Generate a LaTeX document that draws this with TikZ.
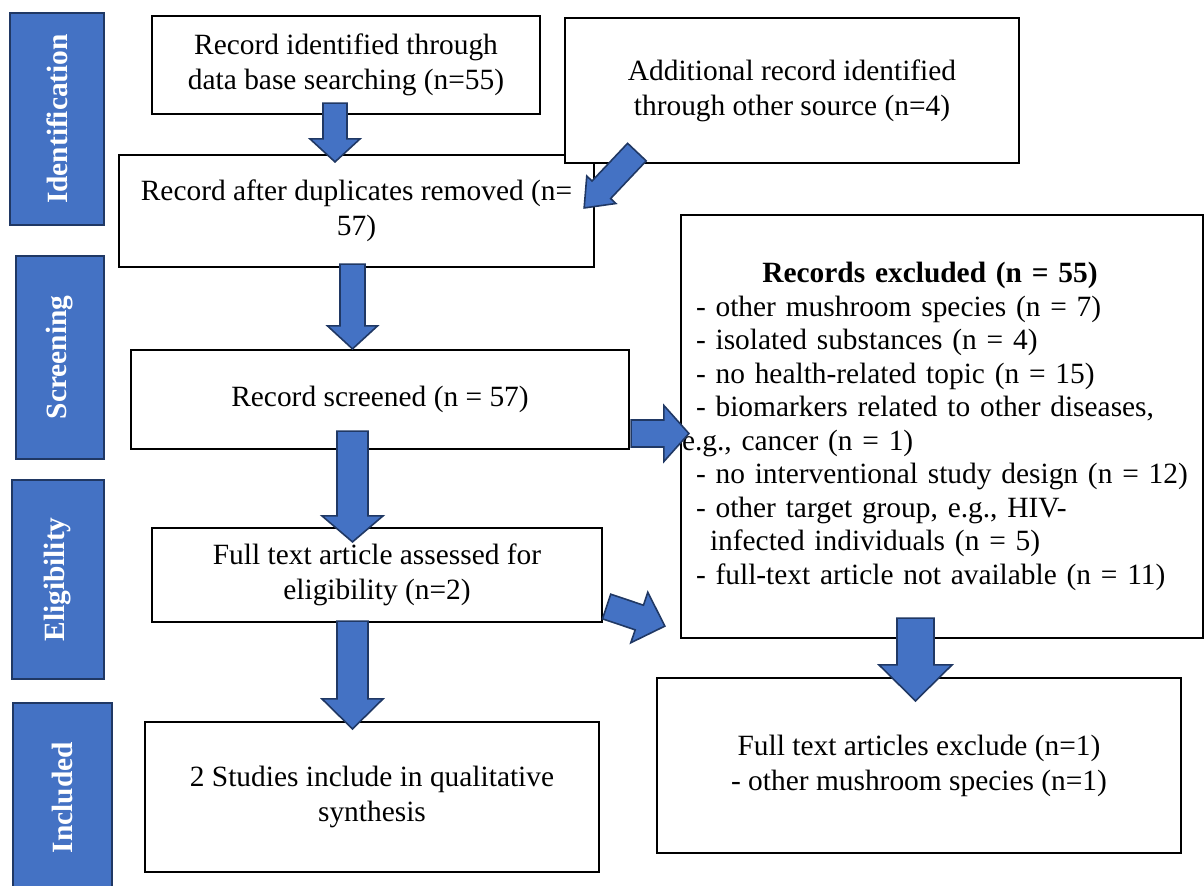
\documentclass[tikz,border=0pt]{standalone}
\usepackage{fontspec}
\setmainfont{Liberation Serif}
\usetikzlibrary{calc}
\definecolor{stagefill}{HTML}{4472C4}
\definecolor{stageline}{HTML}{203864}

\newcommand{\blockarrow}[5]{% from, to, shaft half, head half, head length (pt)
  \path let \p1=(#1), \p2=(#2) in \pgfextra{%
    \pgfmathsetmacro\baang{atan2(\y2-\y1,\x2-\x1)}%
    \pgfmathsetmacro\balen{veclen(\x2-\x1,\y2-\y1)}%
    \global\let\baang\baang\global\let\balen\balen};
  \draw[blockarr,shift={(#1)},rotate=\baang]
    (0pt,-#3pt) -- ({\balen pt-#5pt},-#3pt) -- ({\balen pt-#5pt},-#4pt)
    -- (\balen pt,0pt) -- ({\balen pt-#5pt},#4pt) -- ({\balen pt-#5pt},#3pt)
    -- (0pt,#3pt) -- cycle;
}

\begin{document}
\begin{tikzpicture}[x=0.5pt,y=-0.5pt,
  box/.style={draw,line width=1.1pt,fill=white,inner sep=0pt,align=center,
    font=\fontsize{14.7pt}{17.5pt}\selectfont},
  stage/.style={draw=stageline,line width=1pt,fill=stagefill,rotate=90,text=white,
    inner sep=0pt,font=\fontsize{14.7pt}{17.5pt}\selectfont\bfseries},
  blockarr/.style={draw=stageline,line width=0.8pt,fill=stagefill,line join=miter}]
  \useasboundingbox (0,0) rectangle (1204,885);
  \foreach \nm/\cx/\cy/\bh/\bw/\lab in {stIdent/57/119/106/47/Identification,
    stScreen/60/357.5/101.5/44/Screening,stElig/58/579.5/99.5/46/Eligibility,
    stIncl/62.5/797.5/94.5/49.5/Included}{
    \node[stage,minimum width=\bh pt,minimum height=\bw pt] (\nm) at (\cx,\cy) {\lab};
  }
  \node[box,minimum width=194pt,minimum height=49pt] (recIdent) at (346,65)
    {Record identified through\\data base searching (n=55)};
  \node[box,minimum width=237.5pt,minimum height=56pt] (recDup) at (356.5,211)
    {Record after duplicates removed (n=\\57)};
  \node[box,minimum width=227pt,minimum height=72.5pt] (recOther) at (792,90.5)
    {Additional record identified\\through other source (n=4)};
  \node[box,minimum width=249pt,minimum height=49.5pt] (recScreen) at (380,399.5)
    {Record screened (n = 57)};
  \node[box,minimum width=261pt,minimum height=211.5pt,text width=246pt,align=left,
    font=\fontsize{14.7pt}{16.75pt}\selectfont] (recExcl) at (942,426.5)
    {\hfill\textbf{Records excluded (n = 55)}\hspace{12pt}\hfill\null\\
     - other mushroom species (n = 7)\\
     - isolated substances (n = 4)\\
     - no health-related topic (n = 15)\\
     - biomarkers related to other diseases,\\
     \hspace*{-7pt}e.g., cancer (n = 1)\\
     - no interventional study design (n = 12)\\
     - other target group, e.g., HIV-\\
     \hspace*{7pt}infected individuals (n = 5)\\
     - full-text article not available (n = 11)};
  \node[box,minimum width=225pt,minimum height=47pt] (fullText) at (377,575)
    {Full text article assessed for\\eligibility (n=2)};
  \node[box,minimum width=227pt,minimum height=75pt] (studies) at (372,797)
    {2 Studies include in qualitative\\synthesis};
  \node[box,minimum width=262pt,minimum height=87.5pt] (fullExcl) at (919,765.5)
    {Full text articles exclude (n=1)\\- other mushroom species (n=1)};

  \coordinate (a1) at ($(recIdent.south)+(-11,-12)$);
  \coordinate (b1) at ($(recDup.north)+(-21.5,8)$);
  \coordinate (a2) at ($(recDup.south)+(-4,-4)$);
  \coordinate (b2) at ($(recScreen.north)+(-27.5,0)$);
  \coordinate (a3) at ($(recScreen.south)+(-27.5,-19)$);
  \coordinate (b3) at ($(fullText.north)+(-24.5,15)$);
  \coordinate (a4) at ($(fullText.south)+(-24.5,-2)$);
  \coordinate (b4) at ($(studies.north)+(-19.5,8)$);
  \coordinate (a5) at ($(recExcl.south)+(-26.5,-21)$);
  \coordinate (b5) at ($(fullExcl.north)+(-3.5,24)$);
  \coordinate (a6) at ($(recScreen.east)+(1,34)$);
  \coordinate (b6) at ($(recExcl.west)+(9,7)$);
  \coordinate (a7) at ($(fullText.east)+(3.5,31.5)$);
  \coordinate (b7) at ($(recExcl.south west)+(-15,-13)$);
  \coordinate (a8) at ($(recOther.south west)+(73,-12)$);
  \coordinate (b8) at ($(recDup.east)+(-11,-3)$);
  \blockarrow{a1}{b1}{6}{12.5}{11.5}
  \blockarrow{a2}{b2}{6.25}{12.5}{11.5}
  \blockarrow{a3}{b3}{7.75}{15.25}{13}
  \blockarrow{a4}{b4}{7.75}{15.25}{15}
  \blockarrow{a5}{b5}{9.25}{18.25}{18}
  \blockarrow{a6}{b6}{6.75}{14}{12.5}
  \blockarrow{a7}{b7}{6.5}{13.3}{13.5}
  \blockarrow{a8}{b8}{6.4}{10}{12.5}
\end{tikzpicture}
\end{document}
